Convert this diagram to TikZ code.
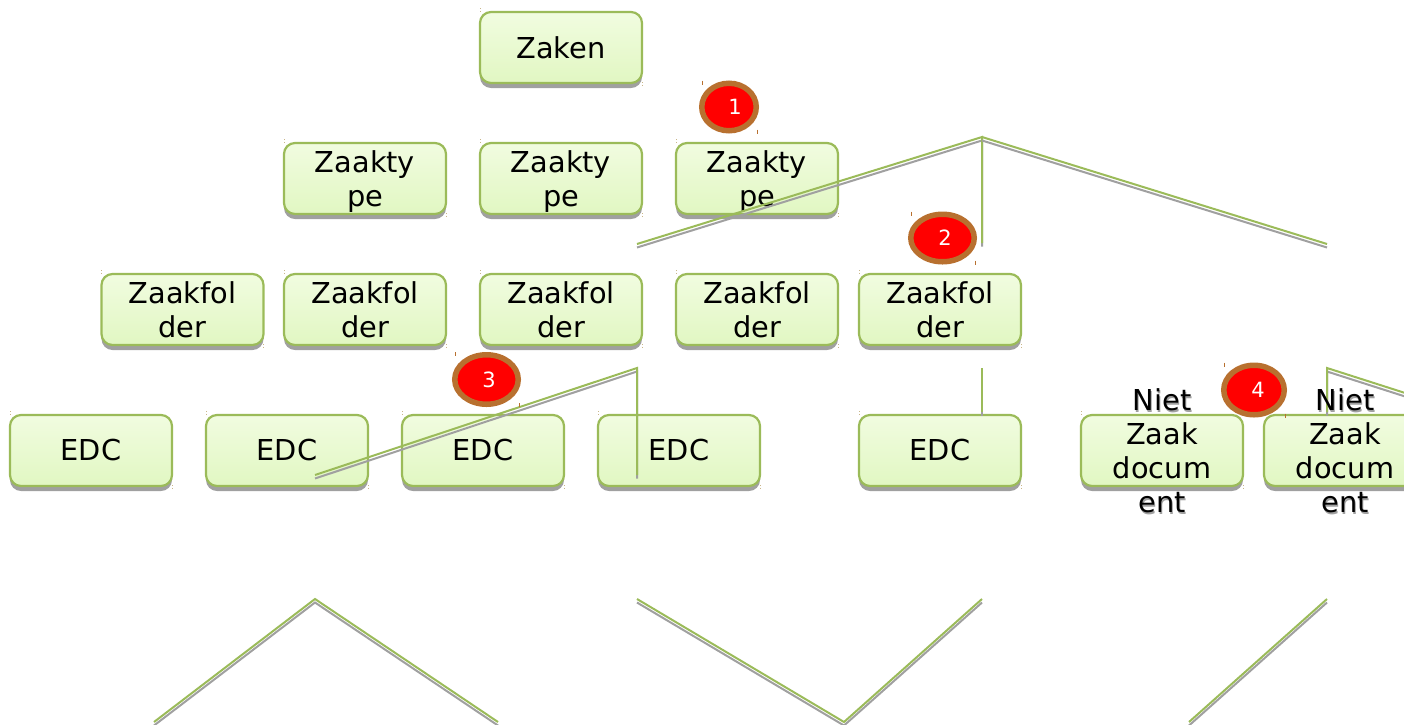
\documentclass[tikz,border=0pt]{standalone}
\usepackage{fontspec}
\setmainfont{DejaVu Sans}
\usetikzlibrary{shadows,shapes.geometric}
\definecolor{boxline}{HTML}{9BBB59}
\definecolor{boxtop}{HTML}{F1FCE0}
\definecolor{boxbot}{HTML}{E1F7C2}
\definecolor{shade}{HTML}{A0A0A0}
\definecolor{ringc}{HTML}{B8702F}
\definecolor{tickc}{HTML}{C9B68A}
\tikzset{
  x=1pt,y=-1pt,
  basebox/.style={draw=boxline,line width=2.2pt,rounded corners=11pt,
    top color=boxtop,bottom color=boxbot,minimum width=162pt,minimum height=71pt,
    inner sep=0pt,text width=160pt,align=center,
    font=\fontsize{28.8}{34}\selectfont,
    drop shadow={shadow xshift=0pt,shadow yshift=-5pt,fill=shade,opacity=1}},
  labeltext/.style={inner sep=0pt,text width=160pt,align=center,font=\fontsize{28.8}{34}\selectfont},
  conn/.style={draw=boxline,line width=2pt,line join=miter},
  connshade/.style={draw=shade,line width=2pt,line join=miter,transform canvas={yshift=-3.5pt}},
  badge/.style={ellipse,draw=ringc,fill=red,line width=5.5pt,inner sep=0pt},
  badgetext/.style={text=white,inner sep=0pt,font=\fontsize{21}{24}\selectfont},
  boxtick/.style={draw=tickc,line width=0.8pt,dotted},
  ringtick/.style={draw=ringc,line width=0.8pt}
}
% name, centre x, top y, text
\newcommand{\bx}[4]{%
  \node[basebox] (#1) at (#2,#3+35.5) {#4};
  \draw[boxtick] (#2-81,#3-4) -- (#2-81,#3+1);
  \draw[boxtick] (#2+81,#3+70) -- (#2+81,#3+75);}
\newcommand{\tl}[2]{\rule{0pt}{27pt}#1\\#2\rule[-6pt]{0pt}{6pt}}
\newcommand{\con}[1]{\draw[connshade] #1; \draw[conn] #1;}
% name, centre x, centre y, width, height, number x, number
\newcommand{\bdg}[7]{%
  \node[badge,minimum width=#4pt-5.5pt,minimum height=#5pt-5.5pt] (#1) at (#2,#3) {};
  \node[badgetext] (#1t) at (#6,#3) {#7};
  \draw[ringtick] (#2-#4/2+3,#3-#5/2) -- (#2-#4/2+3,#3-#5/2+4);
  \draw[ringtick] (#2+#4/2-2,#3+#5/2-4) -- (#2+#4/2-2,#3+#5/2);}
\begin{document}
\begin{tikzpicture}
\useasboundingbox (0,0) rectangle (1404,724);
\clip (0,0) rectangle (1404,724);
% text shadows of the overflowing labels
\node[labeltext,text=shade] (s1) at (1163,453) {Niet\\Zaak\\docum\\ent};
\node[labeltext,text=shade] (s2) at (1346,453) {Niet\\Zaak\\docum\\ent};
% boxes
\bx{zaken}{561}{12}{Zaken}
\bx{ty1}{365}{143}{\tl{Zaakty}{pe}}
\bx{ty2}{561}{143}{\tl{Zaakty}{pe}}
\bx{ty3}{757}{143}{\tl{Zaakty}{pe}}
\bx{f1}{182.5}{274}{\tl{Zaakfol}{der}}
\bx{f2}{365}{274}{\tl{Zaakfol}{der}}
\bx{f3}{561}{274}{\tl{Zaakfol}{der}}
\bx{f4}{757}{274}{\tl{Zaakfol}{der}}
\bx{f5}{940}{274}{\tl{Zaakfol}{der}}
\bx{e1}{91}{415}{EDC}
\bx{e2}{287}{415}{EDC}
\bx{e3}{483}{415}{EDC}
\bx{e4}{679}{415}{EDC}
\bx{e5}{940}{415}{EDC}
\bx{n1}{1162}{415}{}
\bx{n2}{1345}{415}{}
% free connector ends
\coordinate (a1) at (637,244);
\coordinate (a2) at (982,137);
\coordinate (a3) at (982,243);
\coordinate (a4) at (1327,244);
\coordinate (b1) at (315,475);
\coordinate (b2) at (637,368);
\coordinate (b3) at (637,475);
\coordinate (c1) at (982,368);
\coordinate (c2) at (982,412);
\coordinate (d1) at (1327,368);
\coordinate (d2) at (1327,412);
\coordinate (d3) at (1427,400);
\coordinate (p1) at (154,722);
\coordinate (p2) at (315,599);
\coordinate (p3) at (498,722);
\coordinate (q1) at (637,599);
\coordinate (q2) at (844,722);
\coordinate (q3) at (982,599);
\coordinate (r1) at (1189,722);
\coordinate (r2) at (1327,599);
\con{(a1) -- (a2) -- (a3)}
\con{(a2) -- (a4)}
\con{(b1) -- (b2) -- (b3)}
\con{(c1) -- (c2)}
\con{(d2) -- (d1) -- (d3)}
\con{(p1) -- (p2) -- (p3)}
\con{(q1) -- (q2) -- (q3)}
\con{(r1) -- (r2)}
% labels above the connector
\node[labeltext] (l1) at (1162,450.5) {Niet\\Zaak\\docum\\ent};
\node[labeltext] (l2) at (1345,450.5) {Niet\\Zaak\\docum\\ent};
% badges
\bdg{m1}{729}{107}{60}{53}{735}{1}
\bdg{m2}{942.5}{238}{69}{53}{945}{2}
\bdg{m3}{486.5}{379.5}{69}{55}{489}{3}
\bdg{m4}{1254}{390}{66}{55}{1258}{4}
\end{tikzpicture}
\end{document}
